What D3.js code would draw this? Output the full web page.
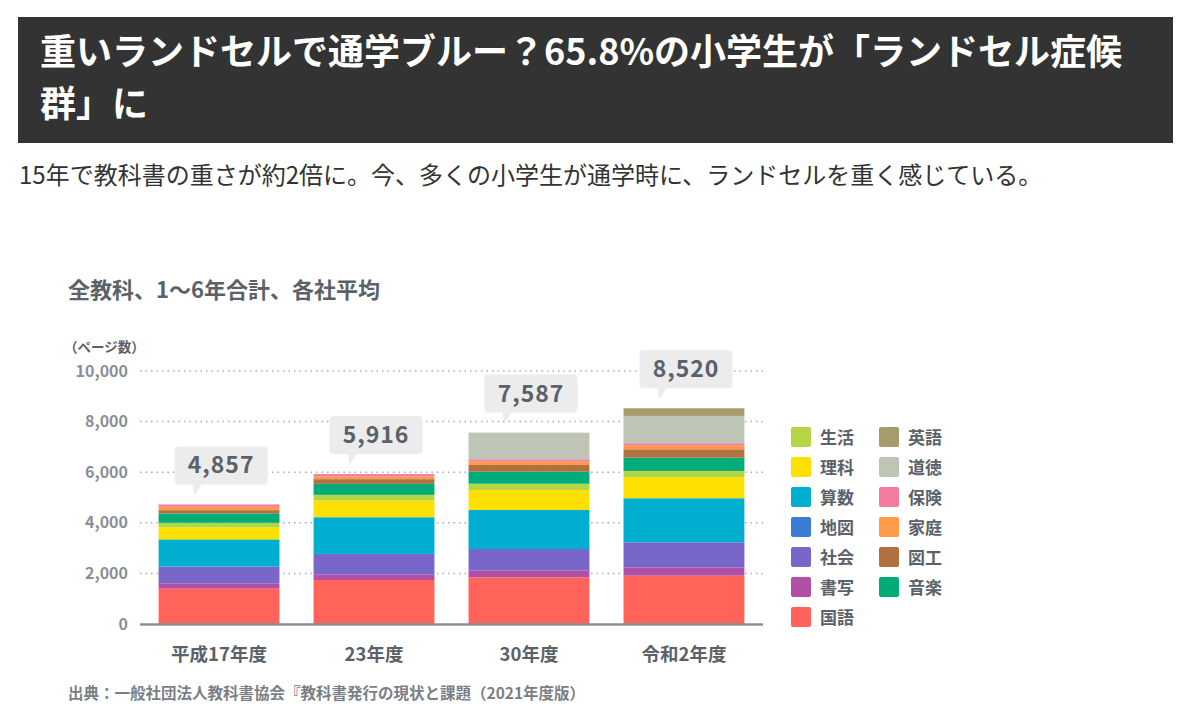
<!DOCTYPE html>
<html>
<head>
<meta charset="utf-8">
<script src="https://cdn.jsdelivr.net/npm/d3@7"></script>
<style>
  body { margin: 0; background: #fff; }
  svg { display: block; font-family: "Noto Sans CJK JP", "Noto Sans", sans-serif; }
</style>
</head>
<body>
<svg id="chart" width="1194" height="726"></svg>
<script>
// data (pages)
const years = ["平成17年度", "23年度", "30年度", "令和2年度"];
const totals = ["4,857", "5,916", "7,587", "8,520"];

// stack order, bottom to top
const subjects = ["国語", "書写", "社会", "地図", "算数", "理科", "生活", "音楽", "図工", "家庭", "保険", "道徳", "英語"];
const kokugo  = [1400, 1740, 1845, 1910];
const shosha  = [210, 225, 265, 330];
const shakai  = [655, 805, 855, 990];
const chizu   = [0, 0, 0, 0];
const sansu   = [1080, 1450, 1540, 1740];
const rika    = [475, 660, 790, 830];
const seikatsu = [180, 225, 250, 250];
const ongaku  = [370, 435, 475, 525];
const zuko    = [130, 185, 265, 330];
const katei   = [130, 105, 130, 145];
const hoken   = [95, 95, 95, 95];
const dotoku  = [0, 0, 1055, 1080];
const eigo    = [0, 0, 0, 300];
const seriesValues = [kokugo, shosha, shakai, chizu, sansu, rika, seikatsu, ongaku, zuko, katei, hoken, dotoku, eigo];

const colors = {
  "生活": "#b4d645", "理科": "#fde000", "算数": "#00aed0", "地図": "#3b7dd4",
  "社会": "#7867c8", "書写": "#b24fa6", "国語": "#ff635a", "英語": "#a59b6b",
  "道徳": "#bec5b4", "保険": "#f47aa0", "家庭": "#ff9a46", "図工": "#b0703f", "音楽": "#00ac78"
};
const legendCol1 = ["生活", "理科", "算数", "地図", "社会", "書写", "国語"];
const legendCol2 = ["英語", "道徳", "保険", "家庭", "図工", "音楽"];
const yTicks = [0, 2000, 4000, 6000, 8000, 10000];

const svg = d3.select("#chart");
const textGray = "#5b6169";

// header
svg.append("rect").attr("x", 18).attr("y", 17).attr("width", 1155).attr("height", 126).attr("fill", "#333333");
svg.append("text").attr("x", 40).attr("y", 65).attr("fill", "#fff")
  .attr("font-size", 36).attr("font-weight", "bold")
  .text("重いランドセルで通学ブルー？65.8%の小学生が「ランドセル症候");
svg.append("text").attr("x", 40).attr("y", 117).attr("fill", "#fff")
  .attr("font-size", 36).attr("font-weight", "bold")
  .text("群」に");
svg.append("text").attr("x", 19).attr("y", 184).attr("fill", "#333")
  .attr("font-size", 24)
  .text("15年で教科書の重さが約2倍に。今、多くの小学生が通学時に、ランドセルを重く感じている。");

// chart title
svg.append("text").attr("x", 68).attr("y", 298).attr("fill", textGray)
  .attr("font-size", 22).attr("font-weight", "bold")
  .text("全教科、1〜6年合計、各社平均");
svg.append("text").attr("x", 64).attr("y", 352).attr("fill", textGray)
  .attr("font-size", 13.5).attr("font-weight", "bold")
  .text("（ページ数）");

// scales
const x = d3.scaleBand().domain(years).range([140, 763]).paddingInner(0.22).paddingOuter(0.12);
const y = d3.scaleLinear().domain([0, 10000]).range([624, 371]);

// grid
svg.append("g").selectAll("line").data(yTicks.filter(d => d > 0)).join("line")
  .attr("x1", 140).attr("x2", 763)
  .attr("y1", d => y(d)).attr("y2", d => y(d))
  .attr("stroke", "#a7abb0").attr("stroke-width", 1.5).attr("stroke-dasharray", "1.5,4");

// y axis labels
const yAxis = d3.axisLeft(y).tickValues(yTicks).tickFormat(d3.format(",")).tickSize(0).tickPadding(6);
svg.append("g").attr("transform", "translate(134,0)").call(yAxis)
  .call(g => g.select(".domain").remove())
  .call(g => g.selectAll("text").attr("fill", "#8a8f96").attr("font-size", 16)
    .attr("font-weight", "bold").attr("font-family", "'Noto Sans CJK JP', sans-serif"));

// stacked bars
const table = years.map((yr, i) => {
  const row = { year: yr };
  subjects.forEach((s, j) => row[s] = seriesValues[j][i]);
  return row;
});
const stack = d3.stack().keys(subjects)(table);
svg.append("g").selectAll("g").data(stack).join("g")
  .attr("fill", d => colors[d.key])
  .selectAll("rect").data(d => d).join("rect")
  .attr("x", d => x(d.data.year))
  .attr("width", x.bandwidth())
  .attr("y", d => y(d[1]))
  .attr("height", d => Math.max(0, y(d[0]) - y(d[1])));

// baseline
svg.append("line").attr("x1", 140).attr("x2", 763).attr("y1", 624.5).attr("y2", 624.5)
  .attr("stroke", "#8a9097").attr("stroke-width", 2.5);

// x labels
const xAxis = d3.axisBottom(x).tickSize(0).tickPadding(24);
svg.append("g").attr("transform", "translate(0,624)").call(xAxis)
  .call(g => g.select(".domain").remove())
  .call(g => g.selectAll("text").attr("fill", textGray).attr("font-size", 18.5)
    .attr("font-weight", "bold").attr("font-family", "'Noto Sans CJK JP', sans-serif"));

// total callouts
const stackTop = years.map((yr, i) => d3.sum(seriesValues, s => s[i]));
const callout = svg.append("g").selectAll("g").data(years).join("g")
  .attr("transform", (d, i) => `translate(${x(d) + 16},${y(stackTop[i]) - 20})`);
callout.append("path")
  .attr("d", "M4,-38 h85 a4,4 0 0 1 4,4 v30 a4,4 0 0 1 -4,4 h-62 l-7,11 l-2,-11 h-14 a4,4 0 0 1 -4,-4 v-30 a4,4 0 0 1 4,-4 z")
  .attr("fill", "#ececed");
callout.append("text").attr("x", 46.5).attr("y", -11).attr("text-anchor", "middle")
  .attr("fill", textGray).attr("font-size", 23).attr("font-weight", "bold")
  .attr("letter-spacing", 1)
  .text((d, i) => totals[i]);

// legend
function legendColumn(items, lx) {
  const g = svg.append("g").selectAll("g").data(items).join("g")
    .attr("transform", (d, i) => `translate(${lx},${427 + i * 30})`);
  g.append("rect").attr("width", 20).attr("height", 20).attr("rx", 2).attr("fill", d => colors[d]);
  g.append("text").attr("x", 29).attr("y", 16.5).attr("fill", textGray)
    .attr("font-size", 17).attr("font-weight", "bold").text(d => d);
}
legendColumn(legendCol1, 791);
legendColumn(legendCol2, 879);

// source
svg.append("text").attr("x", 68).attr("y", 699).attr("fill", "#7a7f86")
  .attr("font-size", 15.5).attr("font-weight", "bold")
  .text("出典：一般社団法人教科書協会『教科書発行の現状と課題（2021年度版）");
</script>
</body>
</html>
